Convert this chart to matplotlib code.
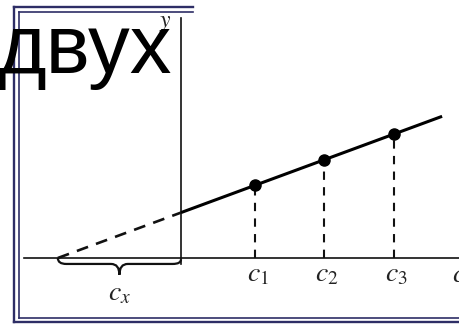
import numpy as np
import matplotlib
matplotlib.use("Agg")
import matplotlib.pyplot as plt
from matplotlib.path import Path
from matplotlib.patches import PathPatch
from matplotlib.lines import Line2D

plt.rcParams['mathtext.fontset'] = 'stix'

# standard additions: added concentration vs. signal (arbitrary units)
c_added = [1.06, 2.04, 3.04]
signal = [1.04, 1.40, 1.77]
add_labels = ['$c_1$', '$c_2$', '$c_3$']
x_end = 3.73
title_word = 'двух'

slope, icpt = np.polyfit(c_added, signal, 1)
c_x = -icpt / slope

fig = plt.figure(figsize=(4.6, 3.25), dpi=100)
ax = fig.add_axes([0, 0, 1, 1])
ax.set_xlim(-181 / 70, 279 / 70)
ax.set_ylim(-67 / 70, 258 / 70)
ax.axis('off')

# double frame
frame_col = '#2e2e66'
fig.add_artist(Line2D([14.3 / 460, 14.3 / 460], [1 - 6.7 / 325, 1 - 322.3 / 325], color=frame_col, lw=1.7))
fig.add_artist(Line2D([14.3 / 460, 193 / 460], [1 - 6.7 / 325, 1 - 6.7 / 325], color=frame_col, lw=1.7))
fig.add_artist(Line2D([14.3 / 460, 1], [1 - 322.3 / 325, 1 - 322.3 / 325], color=frame_col, lw=1.7))
fig.add_artist(Line2D([19 / 460, 19 / 460], [1 - 11.7 / 325, 1 - 318.3 / 325], color=frame_col, lw=1.2))
fig.add_artist(Line2D([19 / 460, 193 / 460], [1 - 11.7 / 325, 1 - 11.7 / 325], color=frame_col, lw=1.2))
fig.add_artist(Line2D([19 / 460, 1], [1 - 318.3 / 325, 1 - 318.3 / 325], color=frame_col, lw=1.2))

# axes lines
ax.plot([-2.24, 4.2], [0, 0], color='#111111', lw=1.2)
ax.plot([0, 0], [-0.09, 3.43], color='#111111', lw=1.2)

# calibration line, extrapolation, points
ax.plot([0, x_end], [icpt, icpt + slope * x_end], color='black', lw=2.2, solid_capstyle='butt')
ax.plot([c_x, 0], [0, icpt], color='#111111', lw=1.9, dashes=(4.5, 3.2))
for c, s in zip(c_added, signal):
    ax.plot([c, c], [0, s], color='#111111', lw=1.5, dashes=(4, 3.5))
ax.plot(c_added, signal, 'o', color='black', ms=8)

# brace under c_x
d, h, r = 0.085, 0.24, 0.12
xm = c_x / 2
verts = [(c_x, 0), (c_x, -d), (c_x + r, -d), (xm - r, -d), (xm, -d), (xm, -h),
         (xm, -d), (xm + r, -d), (-r, -d), (0, -d), (0, -0.02)]
codes = [Path.MOVETO, Path.CURVE3, Path.CURVE3, Path.LINETO, Path.CURVE3, Path.CURVE3,
         Path.CURVE3, Path.CURVE3, Path.LINETO, Path.CURVE3, Path.CURVE3]
ax.add_patch(PathPatch(Path(verts, codes), fill=False, lw=1.6, ec='#111111'))

# labels
for c, lab in zip(c_added, add_labels):
    ax.text(c + 0.04, -0.34, lab, fontsize=20, ha='center', va='baseline', color='#222222')
ax.text(xm, -0.6, '$c_x$', fontsize=20, ha='center', va='baseline', color='#222222')
ax.text(3.87, -0.34, '$c$', fontsize=20, ha='left', va='baseline', color='#222222')
ax.text(-0.22, 3.3, '$y$', fontsize=17, ha='center', va='baseline', color='#222222')

fig.text(-0.006, 1 - 73 / 325, title_word, fontsize=60, family='Liberation Sans',
         ha='left', va='baseline', color='black')

fig.savefig('out.png', dpi=100)
